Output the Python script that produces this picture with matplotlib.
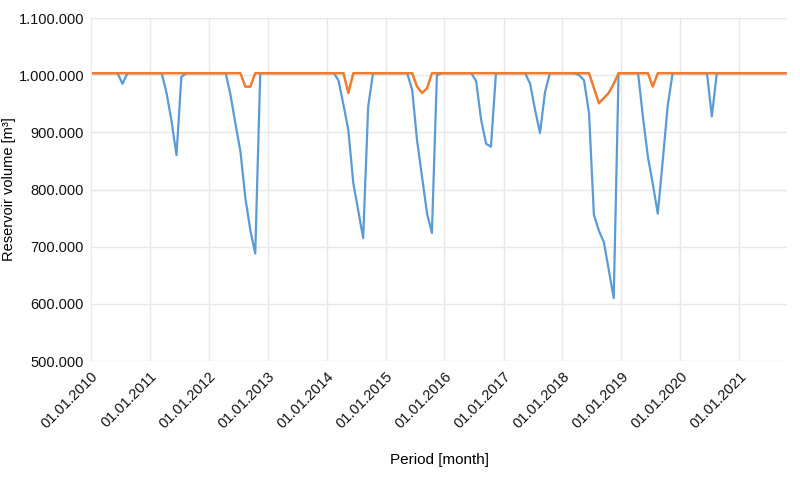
#!/usr/bin/env python3

import numpy as np
import pandas as pd
import matplotlib
matplotlib.use('Agg')
import matplotlib.pyplot as plt
import matplotlib.dates as mdates
from matplotlib.ticker import FuncFormatter

plt.rcParams['font.family'] = ['Liberation Sans', 'DejaVu Sans']

n_months = 142
base = 1003500

# dips: month index -> volume [m3]
inflow_dips = {
    6: 985000,
    15: 968000, 16: 920000, 17: 860000, 18: 997000,
    28: 965000, 29: 914000, 30: 867000, 31: 785000, 32: 728000, 33: 688000,
    50: 991000, 51: 948000, 52: 904000, 53: 811000, 54: 764000, 55: 715000,
    56: 945000,
    65: 974000, 66: 886000, 67: 822000, 68: 758000, 69: 724000, 70: 1000000,
    78: 990000, 79: 922000, 80: 880000, 81: 875000,
    89: 985000, 90: 940000, 91: 899000, 92: 970000,
    99: 1000000, 100: 991000, 101: 933000, 102: 756000, 103: 728000,
    104: 708000, 105: 660000, 106: 610000,
    112: 927000, 113: 857000, 114: 810000, 115: 758000, 116: 851000,
    117: 945000,
    126: 928000,
}
managed_dips = {
    31: 980000, 32: 980000,
    52: 969000,
    66: 980000, 67: 969000, 68: 977000,
    102: 978000, 103: 951000, 104: 960000, 105: 969000, 106: 985000,
    114: 980000,
}

months = pd.date_range('2010-01-01', periods=n_months, freq='MS') + pd.Timedelta(days=14)
blue = np.full(n_months, float(base))
for m, v in inflow_dips.items():
    blue[m] = v
orange = np.full(n_months, float(base))
for m, v in managed_dips.items():
    orange[m] = v

fig = plt.figure(figsize=(8, 4.79), dpi=100)
ax = fig.add_axes([0.11375, 0.2463, 0.87, 0.716])

ax.plot(months, blue, color='#5B9BD5', linewidth=1.6, zorder=3)
ax.plot(months, orange, color='#ED7D31', linewidth=1.8, zorder=4)

ax.set_ylim(500000, 1100000)
ax.set_yticks(np.arange(500000, 1100001, 100000))
ax.yaxis.set_major_formatter(FuncFormatter(lambda v, p: '{:,.0f}'.format(v).replace(',', '.')))

ax.set_xlim(pd.Timestamp('2010-01-01'), pd.Timestamp('2021-10-24'))
ax.xaxis.set_major_locator(mdates.YearLocator())
ax.xaxis.set_major_formatter(mdates.DateFormatter('%d.%m.%Y'))
plt.setp(ax.get_xticklabels(), rotation=45, ha='right', rotation_mode='anchor')

ax.grid(True, color='#e8e8e8', linewidth=1)
ax.set_axisbelow(True)
for s in ax.spines.values():
    s.set_visible(False)
ax.tick_params(length=0, labelsize=10.5, colors='#111111')
ax.tick_params(axis='x', pad=6)
ax.tick_params(axis='y', pad=5)

ax.set_ylabel('Reservoir volume [m³]', fontsize=10.5)
ax.yaxis.set_label_coords(-0.108, 0.5)
ax.set_xlabel('Period [month]', fontsize=11, labelpad=16)

plt.savefig('out.png', dpi=100)
